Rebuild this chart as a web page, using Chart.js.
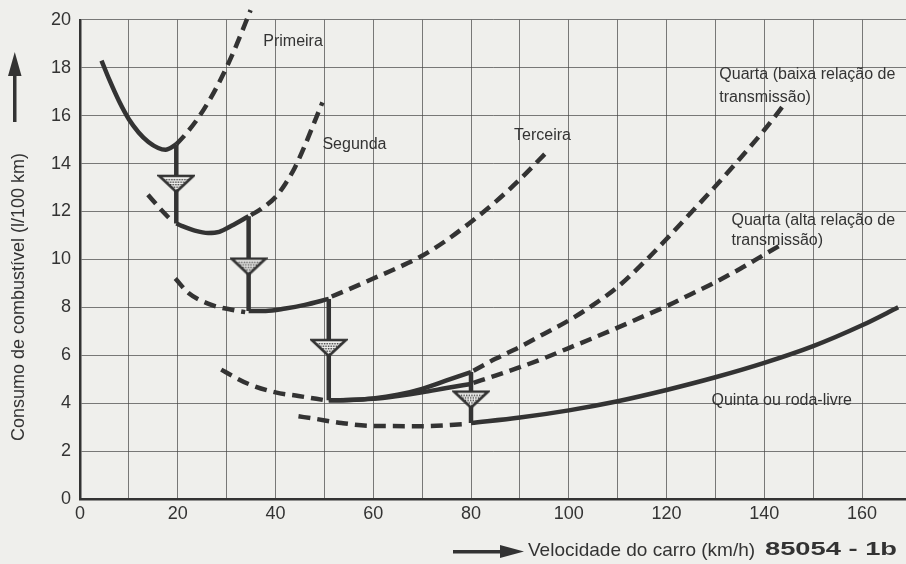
<!DOCTYPE html>
<html>
<head>
<meta charset="utf-8">
<script src="https://cdn.jsdelivr.net/npm/chart.js@4.4.1/dist/chart.umd.min.js"></script>
<style>
  body { margin: 0; background: #efefec; }
  #wrap { width: 906px; height: 564px; }
</style>
</head>
<body>
<div id="wrap"><canvas id="chart"></canvas></div>
<script>
// values: [velocidade km/h, consumo l/100 km]
var primeiraSolid = [[4.4,18.3],[6,17.5],[8,16.6],[10,15.85],[12,15.3],[14,14.9],[16,14.65],[17.5,14.58],[19.7,14.8]];
var primeiraDash  = [[19.7,14.8],[21.5,15.2],[24,15.85],[26.5,16.65],[29,17.6],[31.5,18.7],[34.9,20.4]];

var segundaDashLow = [[13.9,12.7],[16.7,12.05],[18.6,11.65]];
var segundaSolid   = [[19.7,11.5],[20.8,11.4],[23.5,11.2],[26.2,11.1],[28.5,11.15],[31,11.4],[34.5,11.8]];
var segundaDash    = [[35,11.85],[37,12.1],[40,12.6],[42,13.15],[44,13.85],[46,14.75],[48,15.75],[49.6,16.55]];

var terceiraDashLow = [[19.5,9.2],[22.2,8.6],[26.9,8.1],[31,7.9],[33.8,7.8]];
var terceiraSolid   = [[34.5,7.85],[38,7.85],[42,7.95],[46,8.1],[50.9,8.35]];
var terceiraDash    = [[51.5,8.45],[55,8.75],[60,9.2],[65,9.65],[70,10.15],[75,10.8],[79.6,11.5],[85,12.4],[89.8,13.3],[95.6,14.5]];

var quartaDashLow    = [[28.9,5.4],[31.5,5.1],[34.5,4.8],[40,4.45],[44.7,4.3],[50.2,4.12]];
var quartaBaixaSolid = [[50.9,4.12],[55,4.13],[60,4.2],[65,4.35],[70,4.6],[75,4.95],[80,5.3]];
var quartaAltaSolid  = [[50.9,4.12],[55,4.13],[60,4.18],[65,4.3],[70,4.45],[75,4.63],[80,4.8]];
var quartaBaixaDash  = [[80.5,5.35],[85,5.85],[90,6.35],[95,6.9],[100,7.45],[105,8.1],[110,8.85],[115,9.8],[120,10.85],[125,11.95],[130,13.05],[135,14.2],[140,15.4],[144.2,16.5]];
var quartaAltaDash   = [[80.5,4.85],[85,5.15],[90,5.5],[95,5.88],[100,6.3],[105,6.72],[110,7.15],[115,7.6],[120,8.05],[125,8.55],[130,9.05],[135,9.6],[140,10.2],[144.2,10.7]];

var quintaDash  = [[44.7,3.45],[48,3.35],[53.5,3.17],[60,3.05],[70,3.04],[78.6,3.12]];
var quintaSolid = [[80,3.17],[90,3.4],[100,3.7],[110,4.08],[120,4.55],[130,5.08],[140,5.68],[150,6.38],[160,7.25],[167.4,8.0]];

// mudanças de marcha (linha vertical + triângulo)
var shiftX    = [19.7, 34.5, 50.9, 80];
var shiftFrom = [14.8, 11.8, 8.35, 5.3];
var shiftTo   = [11.5, 7.85, 4.12, 3.17];
var shiftMark = [13.15, 9.7, 6.3, 4.15];

var gearLabels = [
  ['Primeira', 37.5, 19.1],
  ['Segunda', 49.6, 14.8],
  ['Terceira', 88.8, 15.15],
  ['Quarta (baixa relação de', 130.8, 17.7],
  ['transmissão)', 130.8, 16.75],
  ['Quarta (alta relação de', 133.3, 11.6],
  ['transmissão)', 133.3, 10.8],
  ['Quinta ou roda-livre', 129.2, 4.1]
];

var ink = '#333333';

function pts(a){ return a.map(function(p){ return {x:p[0], y:p[1]}; }); }

function line(a, dashed){
  return {
    data: pts(a),
    borderColor: ink,
    borderWidth: 4.5,
    borderDash: dashed ? [12, 7] : [],
    borderCapStyle: 'butt',
    pointRadius: 0,
    fill: false,
    cubicInterpolationMode: 'monotone',
    clip: false
  };
}

// triângulo pontilhado
var tri = document.createElement('canvas');
tri.width = 38; tri.height = 20;
(function(){
  var c = tri.getContext('2d');
  c.beginPath();
  c.moveTo(2,2); c.lineTo(36,2); c.lineTo(19,18); c.closePath();
  c.fillStyle = '#f4f4f2';
  c.fill();
  c.save();
  c.clip();
  c.fillStyle = '#333';
  for (var yy = 5; yy < 16; yy += 2.5) {
    for (var xx = 5 + (Math.round(yy) % 2) * 1.2; xx < 34; xx += 2.6) {
      c.fillRect(xx, yy, 1.4, 1.4);
    }
  }
  c.restore();
  c.lineWidth = 2.6;
  c.strokeStyle = ink;
  c.stroke();
})();

var datasets = [];
var marks = [];
for (var i = 0; i < shiftX.length; i++) marks.push([shiftX[i], shiftMark[i]]);
datasets.push({
  data: pts(marks),
  showLine: false,
  pointStyle: tri,
  pointRadius: 10,
  pointHoverRadius: 10,
  clip: false
});
for (var i = 0; i < shiftX.length; i++) {
  var d = line([[shiftX[i], shiftFrom[i]], [shiftX[i], shiftTo[i]]], false);
  d.cubicInterpolationMode = 'default';
  d.tension = 0;
  datasets.push(d);
}
[primeiraSolid, segundaSolid, terceiraSolid, quartaBaixaSolid, quartaAltaSolid, quintaSolid].forEach(function(a){
  datasets.push(line(a, false));
});
[primeiraDash, segundaDashLow, segundaDash, terceiraDashLow, terceiraDash, quartaDashLow, quartaBaixaDash, quartaAltaDash, quintaDash].forEach(function(a){
  datasets.push(line(a, true));
});

var decor = {
  id: 'decor',
  beforeDraw: function(chart){
    var c = chart.ctx;
    c.save();
    c.fillStyle = '#efefec';
    c.fillRect(0, 0, chart.width, chart.height);
    c.restore();
  },
  afterDraw: function(chart){
    var c = chart.ctx;
    var xs = chart.scales.x, ys = chart.scales.y;
    c.save();
    c.fillStyle = ink;
    c.textBaseline = 'middle';
    c.textAlign = 'left';
    c.font = '16px "Liberation Sans", Arial, sans-serif';
    gearLabels.forEach(function(l){
      c.fillText(l[0], xs.getPixelForValue(l[1]), ys.getPixelForValue(l[2]));
    });

    // eixo x: seta + título
    c.fillRect(453, 550, 50, 3.5);
    c.beginPath();
    c.moveTo(500, 545); c.lineTo(524, 551.5); c.lineTo(500, 558); c.closePath();
    c.fill();
    c.font = '19px "Liberation Sans", Arial, sans-serif';
    c.fillText('Velocidade do carro (km/h)', 528, 551);

    // número da figura
    c.font = 'bold 18px "Liberation Sans", Arial, sans-serif';
    var s = '85054 - 1b';
    var w = c.measureText(s).width;
    c.save();
    c.translate(765, 550);
    c.scale(132 / w, 1);
    c.fillText(s, 0, 0);
    c.restore();

    // eixo y: seta + título
    c.fillRect(13, 72, 3.5, 50);
    c.beginPath();
    c.moveTo(8, 76); c.lineTo(14.75, 52); c.lineTo(21.5, 76); c.closePath();
    c.fill();
    c.save();
    c.translate(19, 297);
    c.rotate(-Math.PI / 2);
    c.textAlign = 'center';
    c.font = '18px "Liberation Sans", Arial, sans-serif';
    c.fillText('Consumo de combustível (l/100 km)', 0, 0);
    c.restore();
    c.restore();
  }
};

new Chart(document.getElementById('chart'), {
  type: 'line',
  data: { datasets: datasets },
  plugins: [decor],
  options: {
    responsive: true,
    maintainAspectRatio: false,
    animation: false,
    layout: { autoPadding: false, padding: { top: 17, right: 0, left: 0, bottom: 0 } },
    plugins: { legend: { display: false }, tooltip: { enabled: false } },
    scales: {
      x: {
        type: 'linear',
        min: 0,
        max: 169,
        afterBuildTicks: function(scale){
          scale.ticks = scale.ticks.filter(function(t){ return t.value % 10 === 0; });
        },
        afterFit: function(scale){
          scale.height = 65;
          scale.paddingLeft = 0;
          scale.paddingRight = 0;
        },
        ticks: {
          stepSize: 10,
          includeBounds: false,
          autoSkip: false,
          maxRotation: 0,
          padding: 4,
          color: ink,
          font: { family: '"Liberation Sans", Arial, sans-serif', size: 18 },
          callback: function(v){ return v % 20 === 0 ? v : ''; }
        },
        grid: { color: 'rgba(70,70,70,0.7)', lineWidth: 1, drawTicks: false },
        border: { color: ink, width: 2.5 }
      },
      y: {
        min: 0,
        max: 20,
        afterFit: function(scale){ scale.width = 80; },
        ticks: {
          stepSize: 2,
          padding: 9,
          color: ink,
          font: { family: '"Liberation Sans", Arial, sans-serif', size: 18 }
        },
        grid: { color: 'rgba(70,70,70,0.7)', lineWidth: 1, drawTicks: false },
        border: { color: ink, width: 2.5 }
      }
    }
  }
});
</script>
</body>
</html>
